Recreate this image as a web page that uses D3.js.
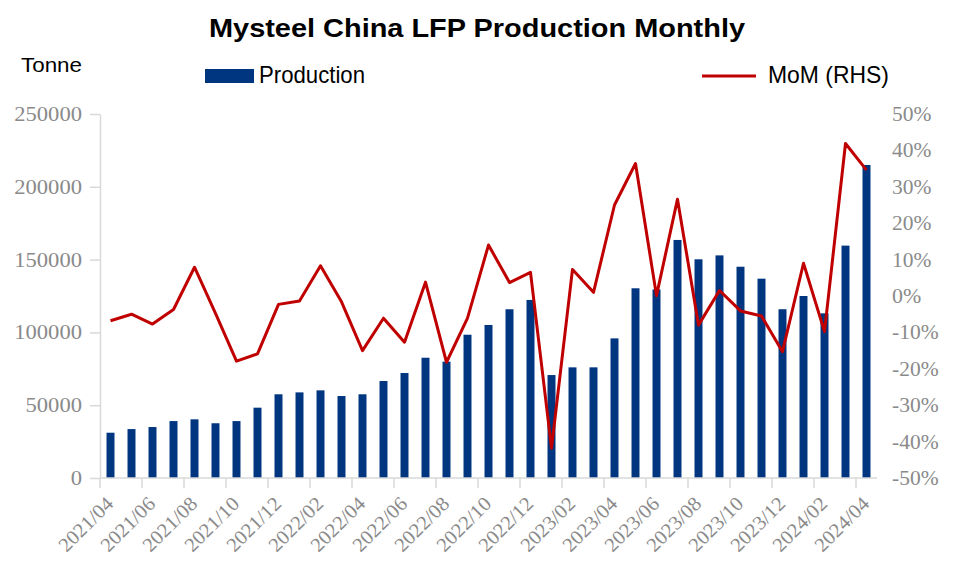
<!DOCTYPE html>
<html>
<head>
<meta charset="utf-8">
<script src="https://cdn.jsdelivr.net/npm/d3@7"></script>
<style>
  html, body { margin: 0; padding: 0; background: #fff; }
  svg { display: block; }
</style>
</head>
<body>
<svg id="chart" width="965" height="581"></svg>
<script>
const months = [
  "2021/04","2021/05","2021/06","2021/07","2021/08","2021/09","2021/10","2021/11","2021/12",
  "2022/01","2022/02","2022/03","2022/04","2022/05","2022/06","2022/07","2022/08","2022/09","2022/10","2022/11","2022/12",
  "2023/01","2023/02","2023/03","2023/04","2023/05","2023/06","2023/07","2023/08","2023/09","2023/10","2023/11","2023/12",
  "2024/01","2024/02","2024/03","2024/04"
];
const production = [
  31100, 33600, 35000, 39100, 40300, 37600, 39100, 48300, 57500,
  58800, 60200, 56300, 57500, 66600, 72100, 82600, 79900, 98400, 105100, 115900, 122300,
  70700, 76000, 76000, 95900, 130300, 129500, 163500, 150200, 152900, 145100, 136900, 115900,
  125000, 113100, 159600, 215000
];
const mom = [
  -6.8, -5.0, -7.7, -3.7, 7.9, -4.8, -17.9, -15.9, -2.3,
  -1.4, 8.3, -1.6, -15.0, -6.1, -12.7, 3.8, -18.2, -6.1, 14.0, 3.7, 6.5,
  -41.8, 7.3, 1.0, 25.0, 36.4, 0.1, 26.6, -8.0, 1.5, -4.1, -5.5, -15.3,
  9.0, -9.8, 41.9, 34.6
];
const leftTicks = [0, 50000, 100000, 150000, 200000, 250000];
const rightTicks = [-50, -40, -30, -20, -10, 0, 10, 20, 30, 40, 50];

const svg = d3.select("#chart");
const plot = { left: 100, right: 877, top: 114, bottom: 478 };

const x = d3.scaleBand().domain(months).range([plot.left, plot.right]).paddingInner(0.62).paddingOuter(0.31);
const xCenter = d => x(d) + x.bandwidth() / 2;
const yL = d3.scaleLinear().domain([0, 250000]).range([plot.bottom, plot.top]);
const yR = d3.scaleLinear().domain([-50, 50]).range([plot.bottom, plot.top]);

const axisGrey = "#d9d9d9";
const labelGrey = "#8a8a8a";
const serif = "'Liberation Serif','Times New Roman',serif";

// Title
svg.append("text")
  .attr("x", 209).attr("y", 37)
  .attr("textLength", 536).attr("lengthAdjust", "spacingAndGlyphs")
  .style("font-family", "'Liberation Sans',Arial,sans-serif")
  .style("font-weight", "bold").style("font-size", "26px").style("fill", "#000")
  .text("Mysteel China LFP Production Monthly");

// Unit label
svg.append("text")
  .attr("x", 21).attr("y", 72)
  .attr("textLength", 61).attr("lengthAdjust", "spacingAndGlyphs")
  .style("font-family", "'Liberation Sans',Arial,sans-serif")
  .style("font-size", "21px").style("fill", "#000")
  .text("Tonne");

// Legend
svg.append("rect").attr("x", 205).attr("y", 69).attr("width", 49).attr("height", 14).attr("fill", "#003580");
svg.append("text")
  .attr("x", 259).attr("y", 83)
  .attr("textLength", 106).attr("lengthAdjust", "spacingAndGlyphs")
  .style("font-family", "'Liberation Sans',Arial,sans-serif")
  .style("font-size", "24px").style("fill", "#000")
  .text("Production");
svg.append("line").attr("x1", 702).attr("x2", 756).attr("y1", 76).attr("y2", 76)
  .attr("stroke", "#c00000").attr("stroke-width", 3);
svg.append("text")
  .attr("x", 768).attr("y", 83)
  .attr("textLength", 121).attr("lengthAdjust", "spacingAndGlyphs")
  .style("font-family", "'Liberation Sans',Arial,sans-serif")
  .style("font-size", "24px").style("fill", "#000")
  .text("MoM (RHS)");

// Left axis
const gL = svg.append("g").attr("transform", `translate(${plot.left},0)`)
  .call(d3.axisLeft(yL).tickValues(leftTicks).tickSize(10).tickSizeOuter(0).tickPadding(8).tickFormat(d3.format("d")));
gL.select(".domain").attr("stroke", axisGrey).attr("stroke-width", 1.5);
gL.selectAll(".tick line").attr("stroke", axisGrey).attr("stroke-width", 1.5);
gL.selectAll(".tick text")
  .style("font-family", serif).style("font-size", "20px").style("fill", labelGrey)
  .attr("textLength", function(d) { return String(d).length * 11.3; })
  .attr("lengthAdjust", "spacingAndGlyphs");

// Right axis (labels only)
const gR = svg.append("g").attr("transform", `translate(${plot.right},0)`)
  .call(d3.axisRight(yR).tickValues(rightTicks).tickSize(0).tickPadding(15).tickFormat(d => d + "%"));
gR.select(".domain").remove();
gR.selectAll(".tick text")
  .style("font-family", serif).style("font-size", "20px").style("fill", labelGrey)
  .attr("textLength", function(d) { const s = d + "%"; return (s.length - 1) * 10.2 + 19 - (d < 0 ? 3 : 0); })
  .attr("lengthAdjust", "spacingAndGlyphs");

// Bars
svg.append("g").selectAll("rect").data(months).join("rect")
  .attr("x", d => x(d))
  .attr("width", x.bandwidth())
  .attr("y", (d, i) => yL(production[i]))
  .attr("height", (d, i) => plot.bottom - yL(production[i]))
  .attr("fill", "#003580");

// Bottom axis
const boundaryTicks = months.filter((d, i) => i % 2 === 0);
const gB = svg.append("g").attr("transform", `translate(0,${plot.bottom})`);
gB.append("line").attr("x1", plot.left).attr("x2", plot.right).attr("y1", 0).attr("y2", 0)
  .attr("stroke", axisGrey).attr("stroke-width", 1.5);
gB.selectAll("line.tk").data(boundaryTicks).join("line").attr("class", "tk")
  .attr("x1", d => x(d) - x.step() * x.paddingOuter())
  .attr("x2", d => x(d) - x.step() * x.paddingOuter())
  .attr("y1", 0).attr("y2", 10)
  .attr("stroke", axisGrey).attr("stroke-width", 1.5);
gB.selectAll("text").data(boundaryTicks).join("text")
  .attr("transform", d => `translate(${xCenter(d) + 4},${27}) rotate(-45)`)
  .attr("text-anchor", "end")
  .attr("textLength", 68).attr("lengthAdjust", "spacingAndGlyphs")
  .style("font-family", serif).style("font-size", "20px").style("fill", labelGrey)
  .text(d => d);

// MoM line
const line = d3.line().x((d, i) => xCenter(months[i])).y(d => yR(d));
svg.append("path").datum(mom)
  .attr("d", line)
  .attr("fill", "none")
  .attr("stroke", "#c00000")
  .attr("stroke-width", 3)
  .attr("stroke-linejoin", "round");
</script>
</body>
</html>
